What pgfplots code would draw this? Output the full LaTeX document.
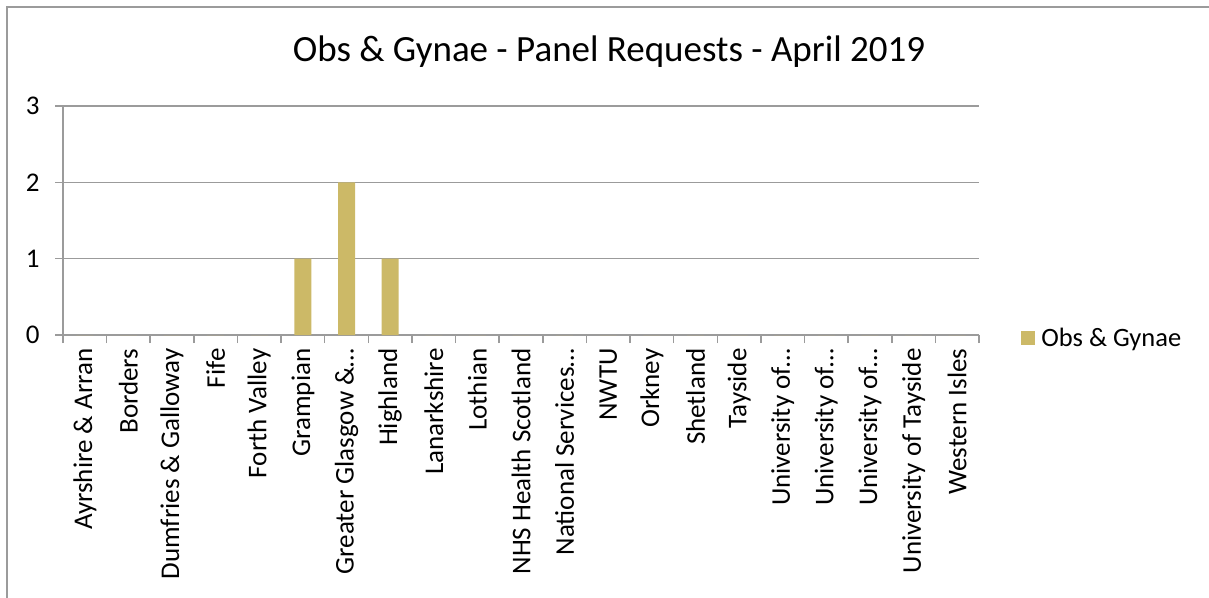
\documentclass[border=0pt]{standalone}
\usepackage{pgfplots}
\pgfplotsset{compat=1.18}
\usepackage{fontspec}
\setmainfont{Carlito}
\definecolor{bargold}{RGB}{204,185,103}
\definecolor{axgray}{RGB}{155,155,155}
\begin{document}
\begin{tikzpicture}[x=1pt,y=1pt]
\useasboundingbox (0,0) rectangle (1209,-597);
% chart frame
\draw[color=axgray, line width=1.5pt] (7,-620) -- (7,-7) -- (1230,-7);
\node[font=\fontsize{37}{44}\selectfont] at (609,-52) {Obs \& Gynae - Panel Requests - April 2019};
\begin{axis}[
  at={(63pt,-335pt)}, anchor=south west,
  scale only axis, width=916pt, height=229pt,
  xmin=-0.5, xmax=20.5, ymin=0, ymax=3,
  axis x line*=bottom, axis y line*=left,
  axis line style={axgray, line width=1.5pt, -},
  ytick={0,1,2,3}, ymajorgrids, grid style={axgray, line width=1.5pt},
  xtick={0,...,20},
  xticklabels={Ayrshire \& Arran, Borders, Dumfries \& Galloway, Fife, Forth Valley, Grampian, Greater Glasgow \&…, Highland, Lanarkshire, Lothian, NHS Health Scotland, National Services…, NWTU, Orkney, Shetland, Tayside, University of…, University of…, University of…, University of Tayside, Western Isles},
  minor xtick={-0.5,0.5,...,20.5},
  major x tick style={draw=none},
  tick align=outside, major tick length=8pt, minor tick length=8pt,
  tick style={axgray, line width=1.5pt},
  xticklabel style={rotate=90, anchor=east, font=\fontsize{27}{32}\selectfont, xshift=-2pt},
  yticklabel style={font=\fontsize{27}{32}\selectfont, xshift=-12pt},
  /pgf/number format/assume math mode=true,
  ybar, bar width=17pt,
  legend style={draw=none, fill=none, at={(1.046,-0.013)}, anchor=west,
    font=\fontsize{26.5}{31}\selectfont, inner sep=0pt, legend cell align=left},
]
\addplot[fill=bargold, draw=none,
  legend image code/.code={\fill[bargold] (0pt,-7pt) rectangle (14pt,7pt); \path (18pt,0pt);}]
coordinates {
  (0,0) (1,0) (2,0) (3,0) (4,0) (5,1) (6,2) (7,1) (8,0) (9,0) (10,0)
  (11,0) (12,0) (13,0) (14,0) (15,0) (16,0) (17,0) (18,0) (19,0) (20,0)
};
\addlegendentry{Obs \& Gynae}
\end{axis}
\end{tikzpicture}
\end{document}
